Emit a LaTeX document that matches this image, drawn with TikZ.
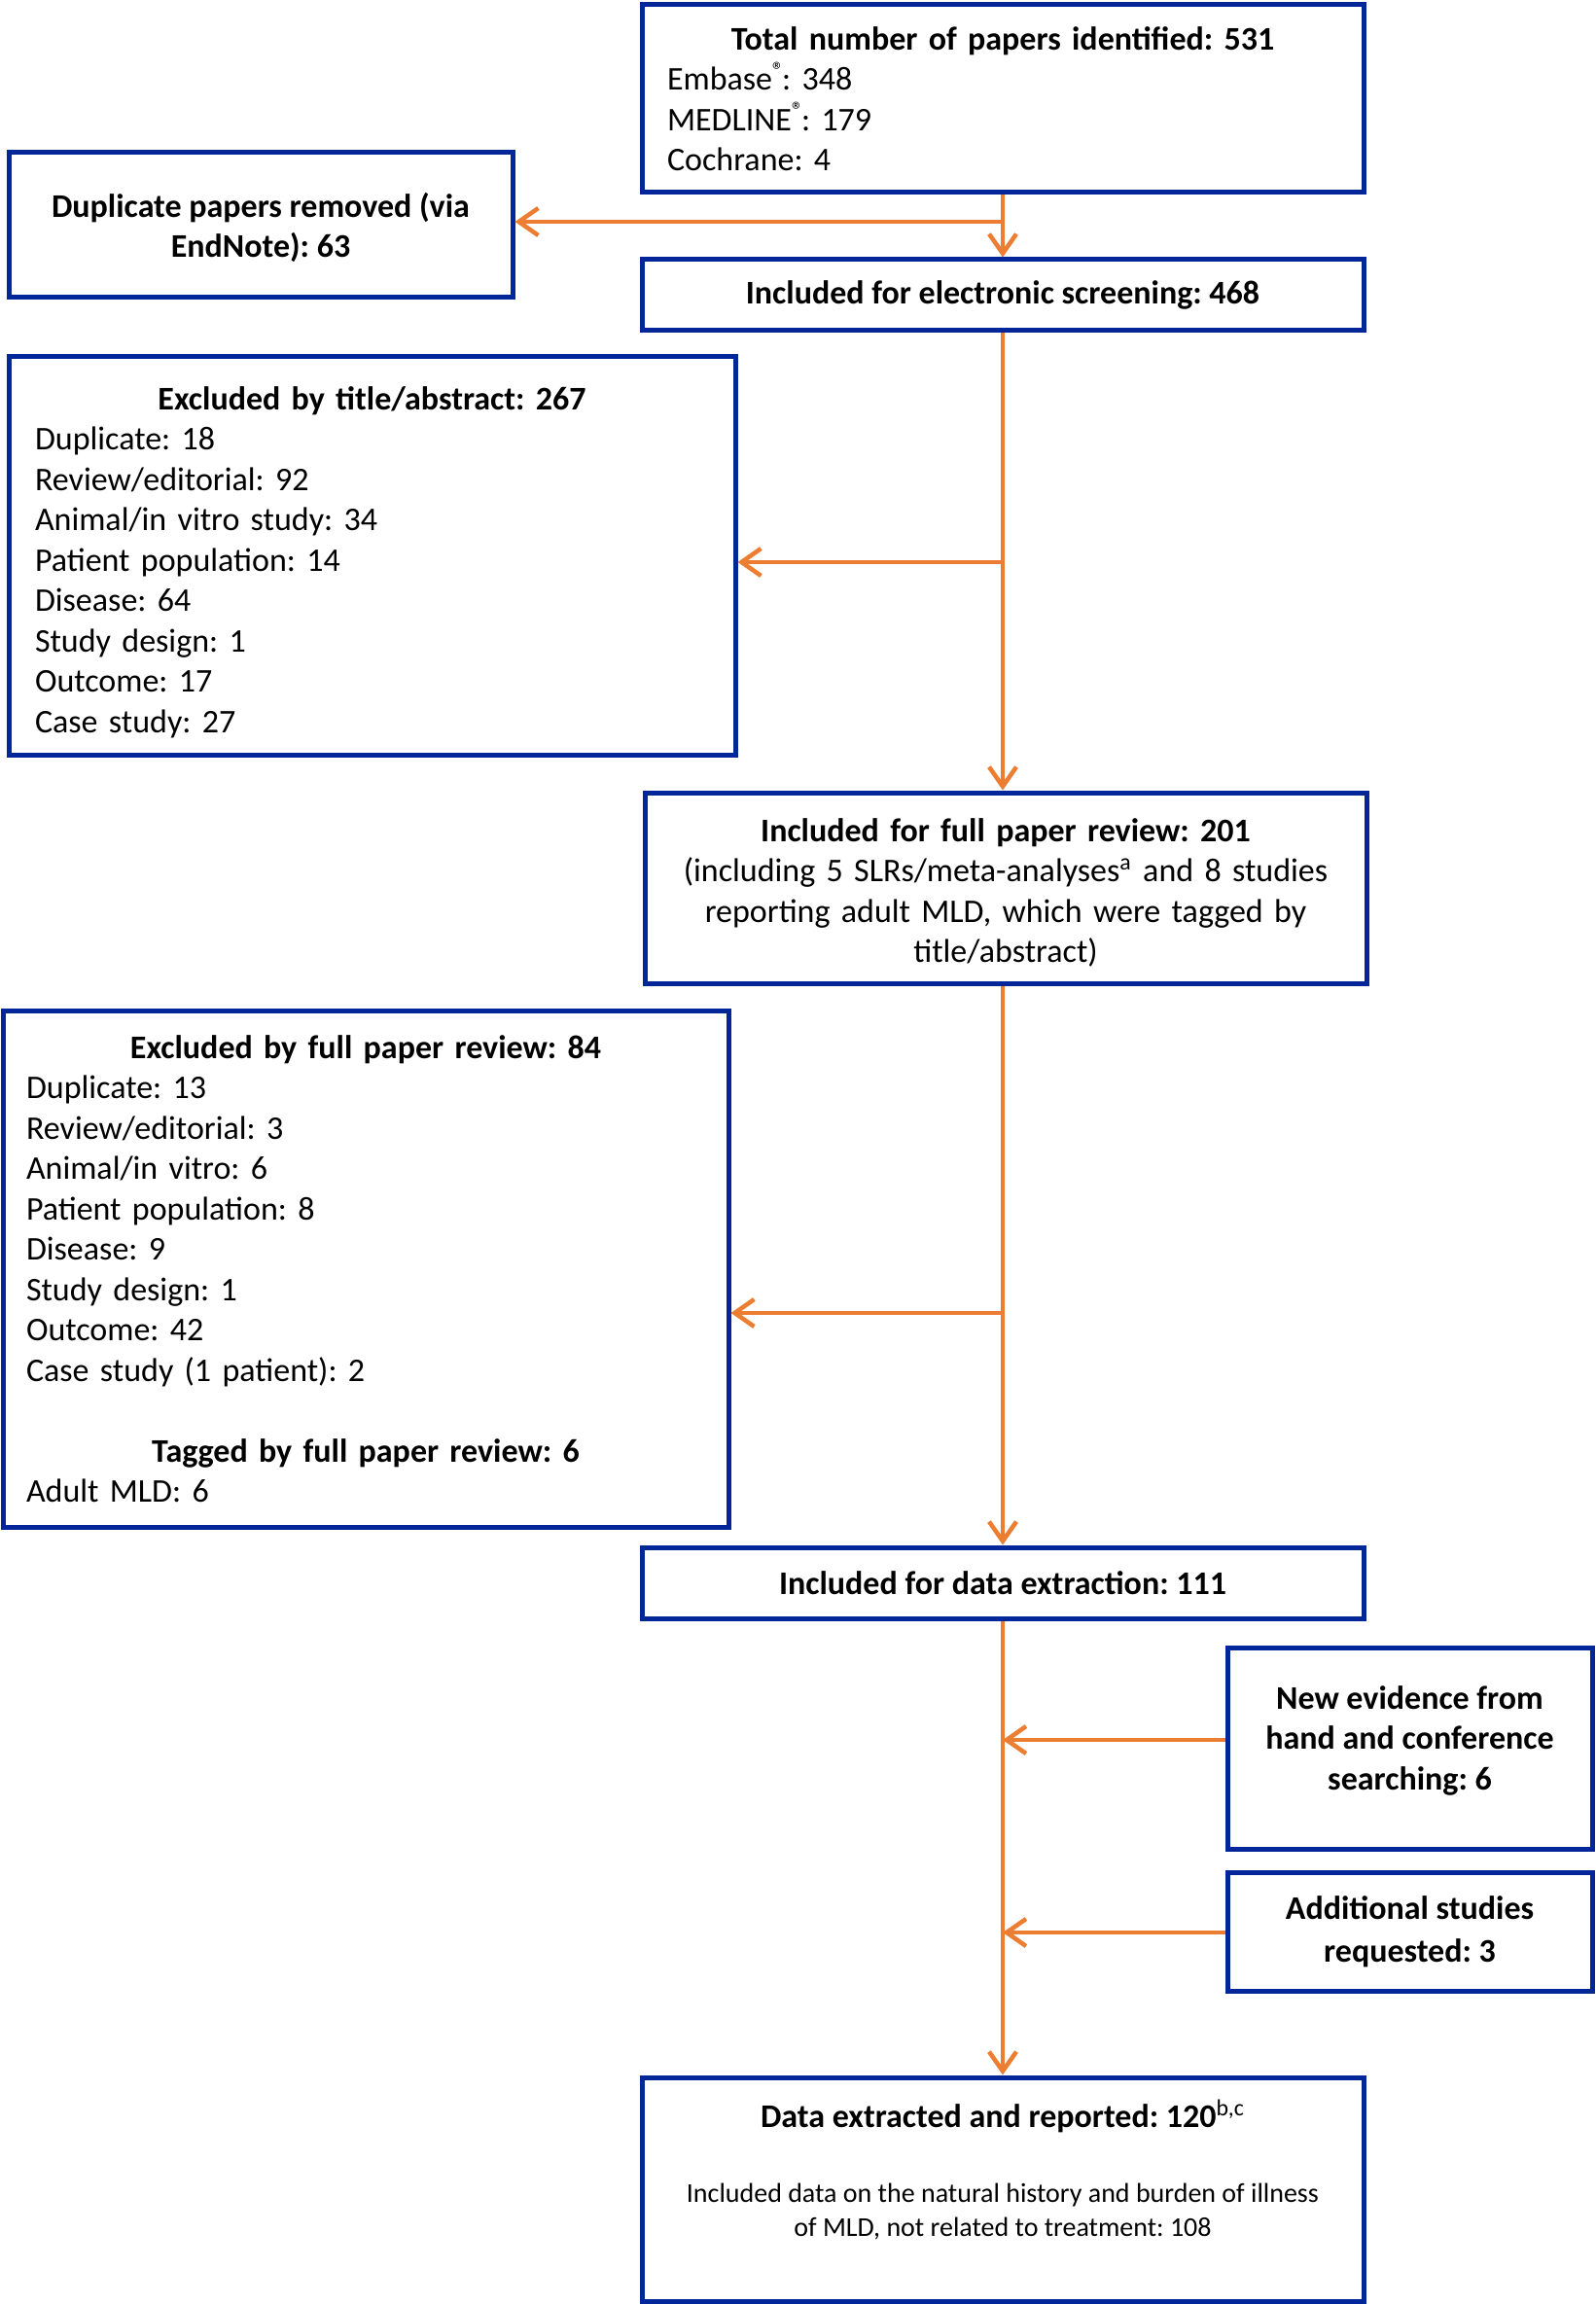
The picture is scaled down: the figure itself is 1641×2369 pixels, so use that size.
\documentclass[tikz,border=0pt]{standalone}
\usepackage{fontspec}
\setmainfont{Carlito}
\usetikzlibrary{arrows.meta,calc}
\definecolor{boxblue}{RGB}{0,38,153}
\definecolor{arrorange}{RGB}{237,125,49}
\newcommand{\hd}[1]{\makebox[\linewidth][c]{\bfseries #1}}
\newcommand{\regsup}{\textsuperscript{®}\kern-1.5pt}
\frenchspacing
\begin{document}
\begin{tikzpicture}[x=0.5pt,y=-0.5pt,
  box/.style={draw=boxblue, line width=2.5pt, rectangle, inner sep=0pt, fill=white},
  txt/.style={font=\fontsize{17}{20.75}\selectfont},
  flow/.style={draw=arrorange, line width=2.25pt, -{Straight Barb[length=10pt,width=14pt]}},
  ]
\useasboundingbox (0,0) rectangle (1641,2369);

\node[box, txt, minimum height=96.5pt, text width=345pt, align=left, inner xsep=13pt] (b1) at (1031,101.5)
  {\hd{Total number of papers identified: 531}\\ Embase\regsup: 348\\ MEDLINE\regsup: 179\\ Cochrane: 4};

\node[box, txt, minimum width=259pt, minimum height=74.5pt, align=center, font=\fontsize{17}{20.75}\selectfont\bfseries] (dup) at (268,231.5)
  {\rule{0pt}{15pt}Duplicate papers removed (via\\ EndNote): 63};

\node[box, txt, minimum width=371pt, minimum height=36.5pt, font=\fontsize{17}{20.75}\selectfont\bfseries] (scr) at (1031,303.5)
  {Included for electronic screening: 468};

\node[box, txt, minimum height=204.5pt, text width=346.5pt, align=left, inner xsep=13.5pt] (ex1) at (382.5,571.5)
  {\rule{0pt}{18.5pt}\hd{Excluded by title/abstract: 267}\\ Duplicate: 18\\ Review/editorial: 92\\ Animal/in vitro study: 34\\ Patient population: 14\\ Disease: 64\\ Study design: 1\\ Outcome: 17\\ Case study: 27};

\node[box, txt, minimum height=98pt, text width=351pt, align=center, inner xsep=10pt] (full) at (1034,913)
  {\rule{0pt}{17pt}\textbf{Included for full paper review: 201}\\ (including 5 SLRs/meta-analyses\textsuperscript{a} and 8 studies\\ reporting adult MLD, which were tagged by\\ title/abstract)};

\node[box, txt, minimum height=265.5pt, text width=349pt, align=left, inner xsep=12pt] (ex2) at (376,1304.5)
  {\hd{Excluded by full paper review: 84}\\ Duplicate: 13\\ Review/editorial: 3\\ Animal/in vitro: 6\\ Patient population: 8\\ Disease: 9\\ Study design: 1\\ Outcome: 42\\ Case study (1 patient): 2\\[20.75pt] \hd{Tagged by full paper review: 6}\\ Adult MLD: 6};

\node[box, txt, minimum width=371pt, minimum height=36.5pt, font=\fontsize{17}{20.75}\selectfont\bfseries] (dat) at (1031,1627.5)
  {Included for data extraction: 111};

\node[box, txt, minimum width=187.5pt, minimum height=103.5pt, align=center, font=\fontsize{17}{20.75}\selectfont\bfseries] (new) at (1449.5,1797.5)
  {New evidence from\\ hand and conference\\ searching: 6\\[-10pt]\mbox{}};

\node[box, txt, minimum width=187.5pt, minimum height=61pt, align=center, font=\fontsize{17}{21.9}\selectfont\bfseries] (add) at (1449.5,1986)
  {Additional studies\\ requested: 3};

\node[box, minimum width=371pt, minimum height=115pt] (fin) at (1031,2251)
  {\parbox[c][112pt][t]{360pt}{\centering\vspace*{9.75pt}%
   {\fontsize{17}{20.75}\selectfont\textbf{Data extracted and reported: 120}\textsuperscript{b,c}}\par
   \vspace{21pt}%
   {\fontsize{14}{17.4}\selectfont Included data on the natural history and burden of illness\\ of MLD, not related to treatment: 108\par}}};

% connectors
\draw[flow] (b1.south) -- (scr.north);
\coordinate (j1) at (1031,228);
\draw[flow] (j1) -- (j1 -| dup.east);

\draw[flow] (scr.south) -- (scr.south |- full.north);
\coordinate (j2) at (1031,578);
\draw[flow] (j2) -- (j2 -| ex1.east);

\draw[flow] (full.south -| dat.north) -- (dat.north);
\coordinate (j3) at (1031,1350);
\draw[flow] (j3) -- (j3 -| ex2.east);

\draw[flow] (dat.south) -- (fin.north);
\coordinate (j4) at (1031,1789);
\draw[flow] (j4 -| new.west) -- (j4);
\coordinate (j5) at (1031,1987);
\draw[flow] (j5 -| add.west) -- (j5);
\end{tikzpicture}
\end{document}
